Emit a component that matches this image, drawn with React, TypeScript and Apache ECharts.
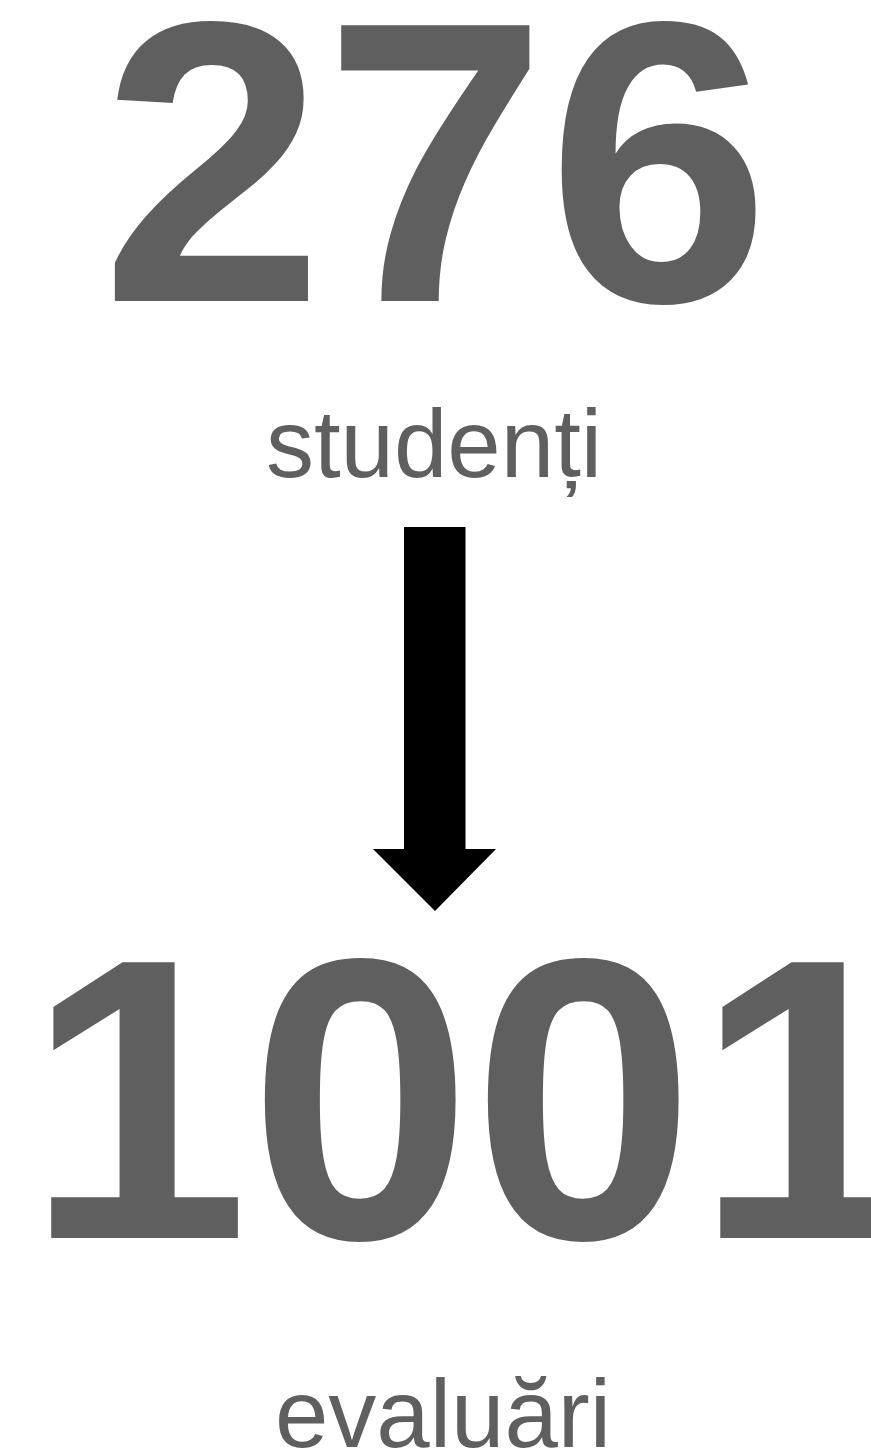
import React, { useEffect, useRef } from "react";
import * as echarts from "echarts";

const numbers = ["276", "1001"];
const labels = ["studenți", "evaluări"];

const W = 871;
const H = 1455;
const GRAY = "#5f5f5f";
const FAMILY = "Liberation Sans";

export default function App() {
  const ref = useRef<HTMLDivElement>(null);
  useEffect(() => {
    document.body.style.margin = "0";
    if (!ref.current) return;
    const chart = echarts.init(ref.current, undefined, { renderer: "svg" });
    const big = 401;
    const small = 96;
    const mid = (baseline: number, size: number) => baseline - 0.3465 * size;
    const txt = (text: string, cx: number, baseline: number, size: number, weight: string) => ({
      type: "text",
      x: cx,
      y: mid(baseline, size),
      style: {
        text,
        fill: GRAY,
        fontFamily: FAMILY,
        fontSize: size,
        fontWeight: weight,
        textAlign: "center",
        textVerticalAlign: "middle",
      },
    });
    chart.setOption({
      animation: false,
      backgroundColor: "#ffffff",
      graphic: [
        txt(numbers[0], 435.5, 301, big, "bold"),
        txt(labels[0], 434, 477, small, "normal"),
        {
          type: "polygon",
          shape: {
            points: [
              [404, 527],
              [465.5, 527],
              [465.5, 849],
              [496, 849],
              [435, 911],
              [373, 849],
              [404, 849],
            ],
          },
          style: { fill: "#000000" },
        },
        txt(numbers[1], 472, 1238, big, "bold"),
        txt(labels[1], 443, 1447, small, "normal"),
      ],
    });
    return () => chart.dispose();
  }, []);
  return <div ref={ref} style={{ width: W, height: H }} />;
}
